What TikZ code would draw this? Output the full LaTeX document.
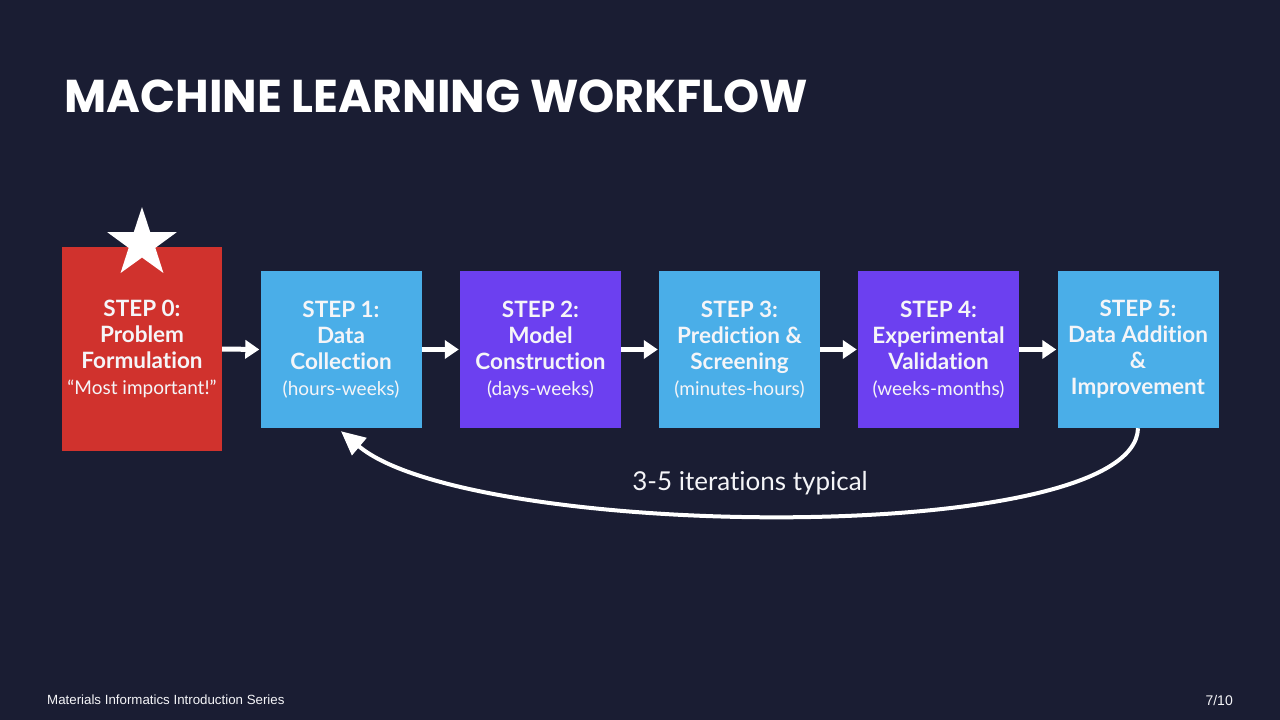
\documentclass[tikz,border=0pt]{standalone}
\usepackage{fontspec}
\setmainfont{Lato}[Ligatures={NoCommon}]
\newfontfamily\titlefont{Poppins}
\newfontfamily\footfont{Liberation Sans}
\usetikzlibrary{shapes.geometric,arrows.meta}
\definecolor{bg}{RGB}{26,29,51}
\definecolor{stepred}{RGB}{208,50,45}
\definecolor{stepblue}{RGB}{74,174,232}
\definecolor{steppurple}{RGB}{108,64,240}
\definecolor{txt}{RGB}{245,245,248}
\newcommand{\bl}[1]{{\bfseries\fontsize{22.5}{26}\selectfont #1}}
\newcommand{\rl}[1]{{\fontsize{19}{26}\selectfont #1}}
\tikzset{
  stepbox/.style={minimum width=161pt, minimum height=157pt, inner sep=0pt, align=center,
    text=txt, font=\fontsize{21}{26}\selectfont},
  flowarrow/.style={draw=white, line width=5pt, -{Triangle[length=14pt,width=18pt]}, shorten >=1pt},
}
\begin{document}
\begin{tikzpicture}[x=1pt,y=-1pt]
\fill[bg] (0,0) rectangle (1280,720);
\useasboundingbox (0,0) rectangle (1280,720);

\node[anchor=base west, inner sep=0pt, text=white, font=\titlefont\bfseries\fontsize{46}{52}\selectfont] (title) at (64,112) {MACHINE LEARNING WORKFLOW};

\node[stepbox, fill=stepred, minimum width=160pt, minimum height=204pt] (s0) at (142,349)
  {\bl{STEP 0:}\\\bl{Problem}\\\bl{Formulation}\\\rl{``Most important!''}};
\node[star, star points=5, star point ratio=2.6, fill=white, minimum size=73pt, inner sep=0pt] (star) at (142,243.5) {};

\node[stepbox, fill=stepblue] (s1) at (341,349.5)
  {\bl{STEP 1:}\\\bl{Data}\\\bl{Collection}\\\rl{(hours-weeks)}};
\node[stepbox, fill=steppurple] (s2) at (540.5,349.5)
  {\bl{STEP 2:}\\\bl{Model}\\\bl{Construction}\\\rl{(days-weeks)}};
\node[stepbox, fill=stepblue] (s3) at (739.5,349.5)
  {\bl{STEP 3:}\\\bl{Prediction \&}\\\bl{Screening}\\\rl{(minutes-hours)}};
\node[stepbox, fill=steppurple] (s4) at (938.5,349.5)
  {\bl{STEP 4:}\\\bl{Experimental}\\\bl{Validation}\\\rl{(weeks-months)}};
\node[stepbox, fill=stepblue] (s5) at (1138,349.5)
  {\bl{STEP 5:}\\\bl{Data Addition}\\\bl{\&}\\\bl{Improvement}};

\draw[flowarrow] (s0.east) -- (s1.west);
\draw[flowarrow] (s1.east) -- (s2.west);
\draw[flowarrow] (s2.east) -- (s3.west);
\draw[flowarrow] (s3.east) -- (s4.west);
\draw[flowarrow] (s4.east) -- (s5.west);

\draw[draw=white, line width=4pt, -{Triangle[length=24pt,width=22pt]}]
  (s5.south) .. controls (1135,548) and (470,540) .. ([yshift=-3pt]s1.south);
\node[text=txt, font=\fontsize{26}{30}\selectfont] (loop) at (750,483) {3-5 iterations typical};

\node[anchor=base west, inner sep=0pt, text=txt, font=\footfont\fontsize{13.3}{15}\selectfont] (footer) at (47,704) {Materials Informatics Introduction Series};
\node[anchor=base east, inner sep=0pt, text=txt, font=\footfont\fontsize{14}{16}\selectfont] (page) at (1233,705) {7/10};
\end{tikzpicture}
\end{document}
